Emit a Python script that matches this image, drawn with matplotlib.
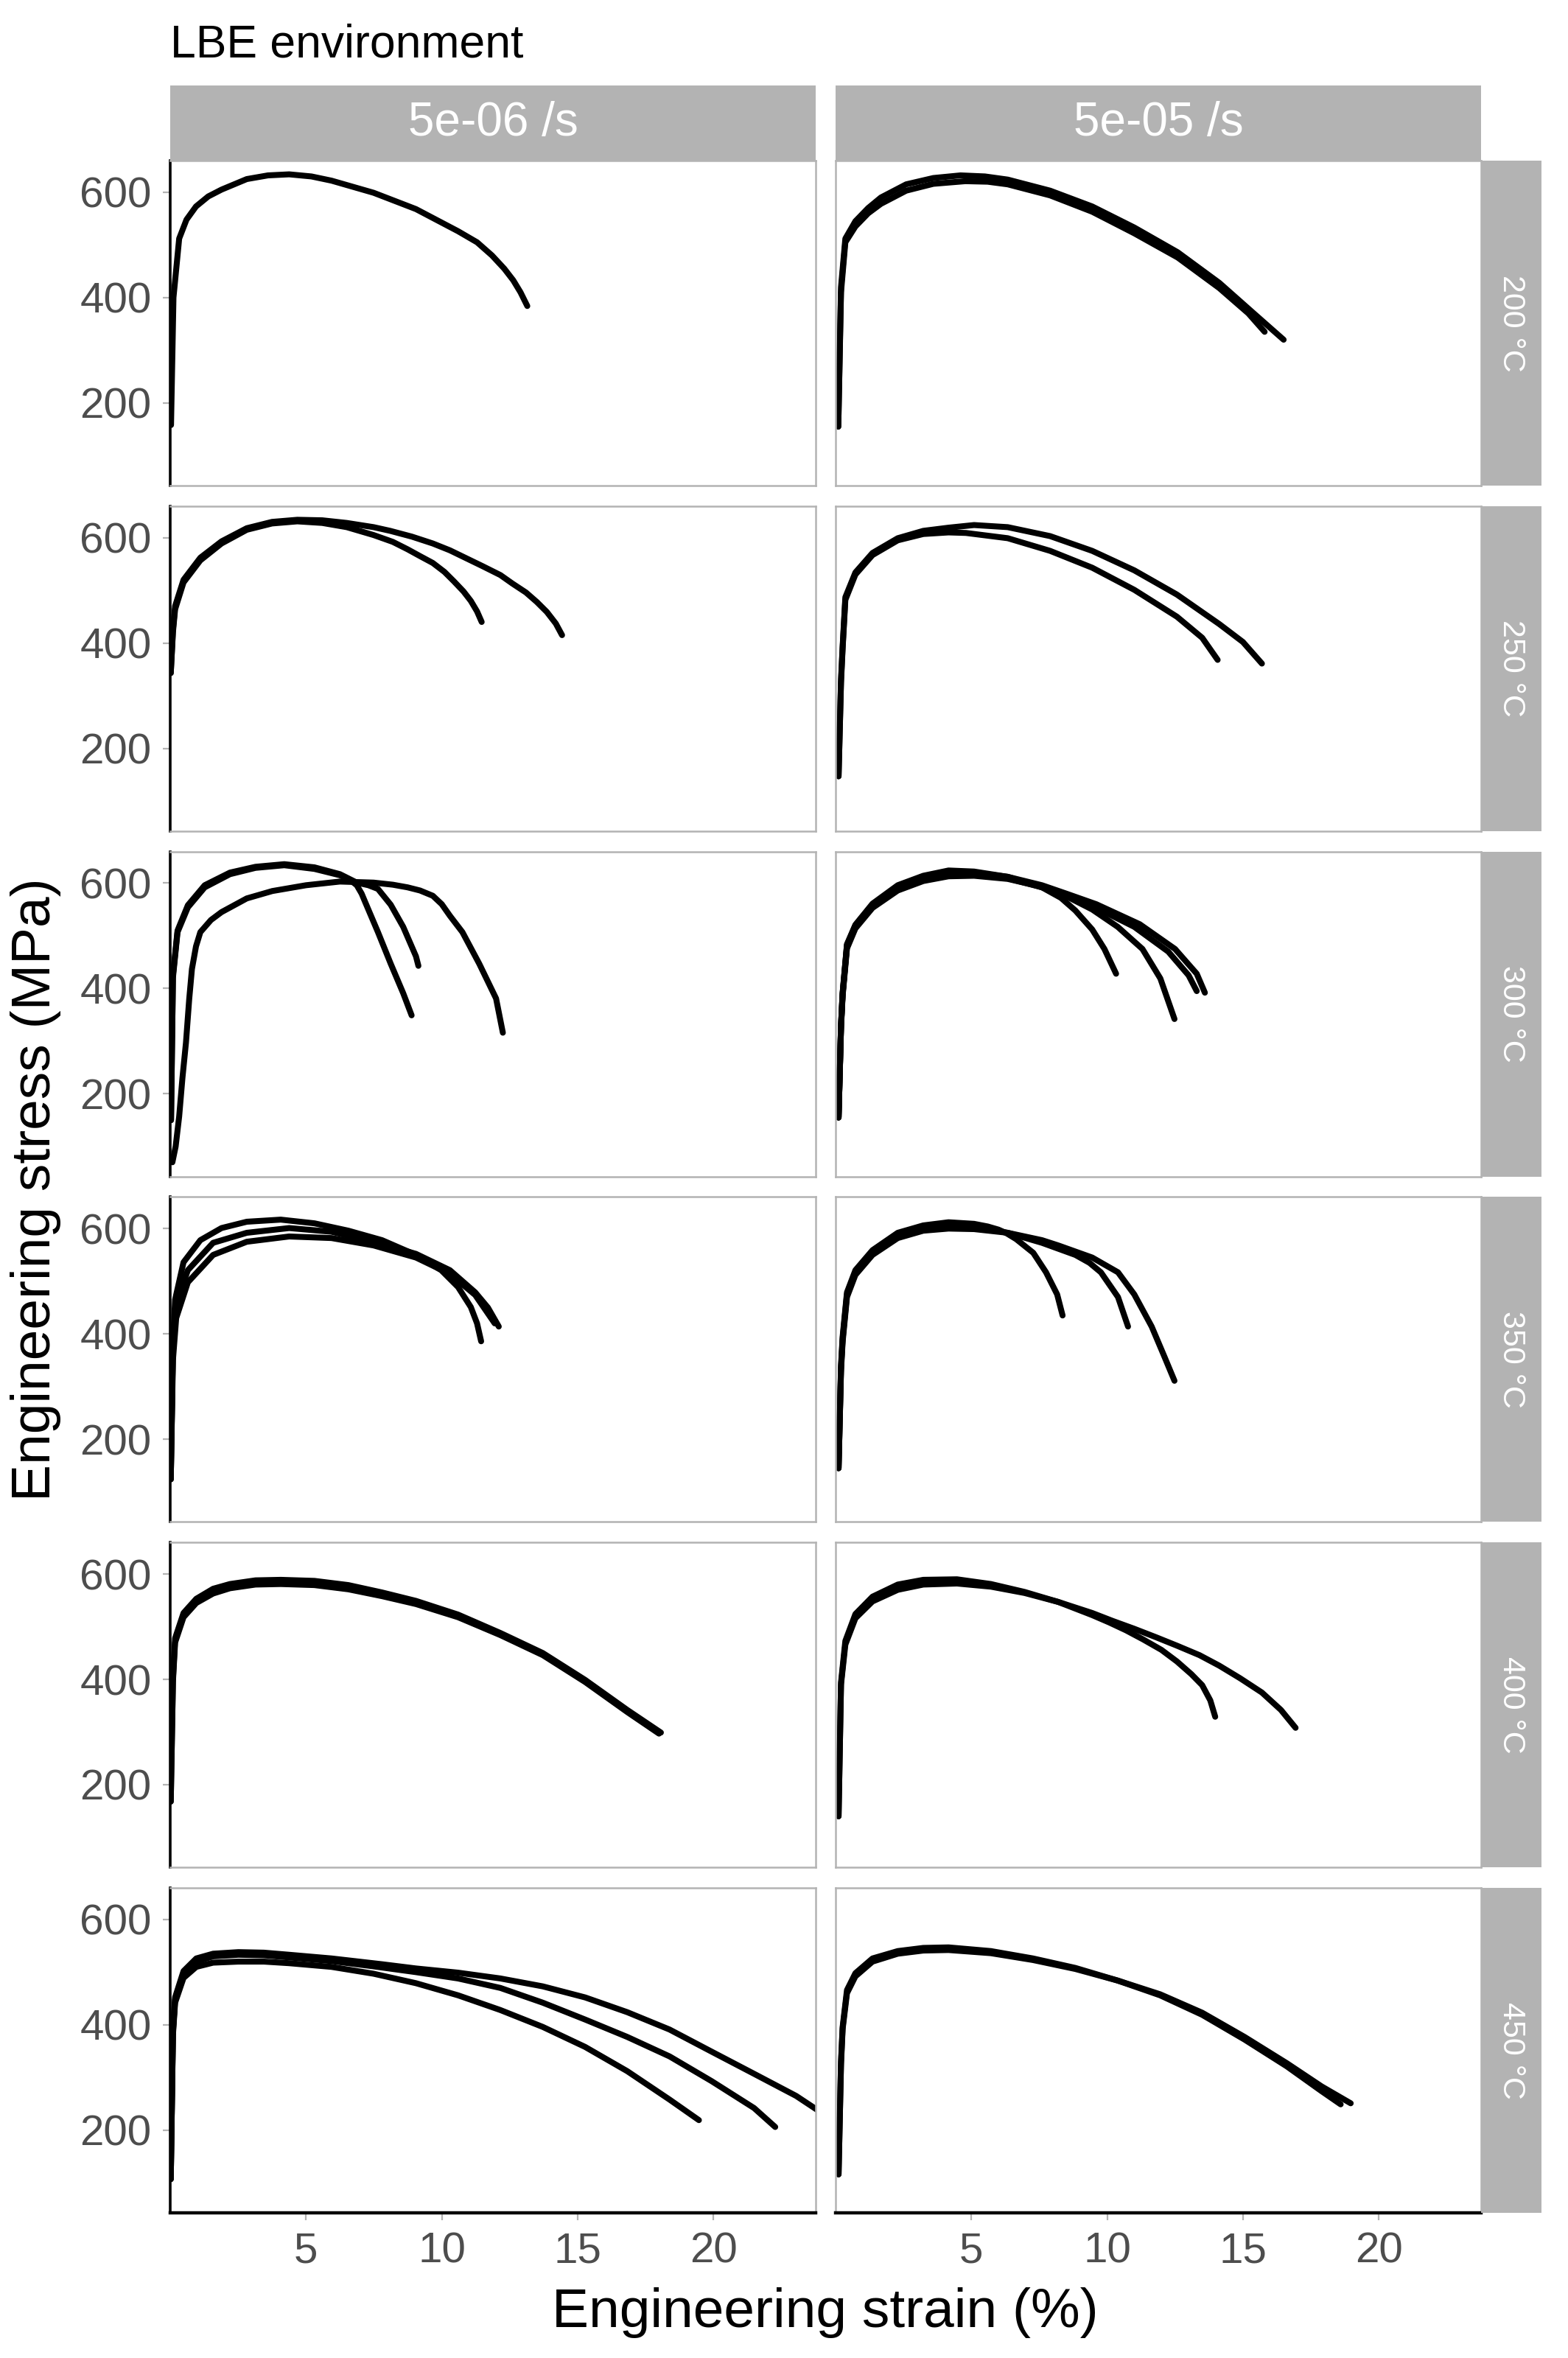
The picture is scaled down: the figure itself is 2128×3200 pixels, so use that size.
import matplotlib
matplotlib.use("Agg")
import matplotlib.pyplot as plt
from matplotlib.patches import Rectangle

plt.rcParams['font.family'] = ['Liberation Sans', 'DejaVu Sans']

temps = ['200 °C', '250 °C', '300 °C', '350 °C', '400 °C', '450 °C']
rates = ['5e-06 /s', '5e-05 /s']
x_ticks = [5, 10, 15, 20]
y_ticks = [200, 400, 600]

# each panel: list of curves, each curve = (strain %, stress MPa)
t200_slow = [
    ([0.03, 0.12, 0.33, 0.6, 0.95, 1.4, 1.89, 2.82, 3.6, 4.38, 5.2, 5.94, 7.49, 9.05, 10.6, 11.3, 11.85, 12.3, 12.63, 12.9, 13.15],
     [158, 400, 512, 548, 573, 592, 605, 625, 632, 634, 630, 622, 599, 568, 526, 505, 480, 455, 433, 410, 384]),
]
t200_fast = [
    ([0.1, 0.2, 0.36, 0.73, 1.2, 1.67, 2.6, 3.6, 4.6, 5.5, 6.34, 7.9, 9.45, 11.0, 12.6, 14.13, 15.4, 16.5],
     [155, 420, 512, 545, 570, 590, 615, 627, 632, 630, 624, 603, 573, 533, 486, 428, 370, 320]),
    ([0.1, 0.2, 0.36, 0.73, 1.2, 1.67, 2.6, 3.6, 4.78, 5.6, 6.34, 7.9, 9.45, 11.0, 12.6, 14.13, 15.2, 15.8],
     [155, 410, 505, 535, 560, 578, 603, 616, 621, 620, 615, 594, 563, 522, 476, 418, 370, 335]),
]

t250_slow = [
    ([0.02, 0.1, 0.18, 0.49, 1.11, 1.89, 2.82, 3.75, 4.68, 5.6, 6.5, 7.49, 8.2, 8.74, 9.2, 9.67, 10.1, 10.45, 10.8, 11.07, 11.3, 11.47],
     [343, 420, 464, 515, 557, 589, 615, 627, 631, 628, 620, 605, 592, 578, 565, 552, 535, 517, 498, 480, 460, 440]),
    ([0.02, 0.1, 0.18, 0.49, 1.11, 1.89, 2.82, 3.75, 4.68, 5.6, 6.5, 7.49, 8.1, 8.9, 9.67, 10.3, 10.9, 11.5, 12.16, 12.6, 13.1, 13.5, 13.87, 14.2, 14.43],
     [343, 425, 470, 520, 562, 593, 618, 630, 634, 633, 628, 620, 613, 602, 589, 576, 561, 546, 529, 513, 496, 478, 459, 437, 415]),
]
t250_fast = [
    ([0.11, 0.2, 0.26, 0.36, 0.73, 1.36, 2.29, 3.23, 4.16, 5.1, 6.34, 7.9, 9.45, 11.0, 12.57, 14.13, 15.0, 15.7],
     [147, 330, 394, 487, 534, 571, 599, 613, 619, 624, 620, 603, 575, 538, 492, 436, 402, 361]),
    ([0.11, 0.2, 0.26, 0.36, 0.73, 1.36, 2.29, 3.23, 4.16, 4.8, 6.34, 7.9, 9.45, 11.0, 12.57, 13.5, 14.07],
     [147, 325, 390, 482, 530, 567, 595, 607, 610, 609, 599, 575, 543, 501, 450, 410, 368]),
]

t300_slow = [
    ([0.03, 0.1, 0.27, 0.65, 1.27, 2.2, 3.14, 4.2, 5.31, 6.25, 6.6, 6.87, 7.05, 7.18, 7.65, 8.12, 8.58, 8.89],
     [150, 420, 507, 554, 592, 617, 629, 634, 627, 615, 607, 596, 580, 564, 507, 447, 391, 349]),
    ([0.03, 0.1, 0.27, 0.65, 1.27, 2.2, 3.14, 4.2, 5.31, 6.25, 6.87, 7.3, 7.65, 8.12, 8.58, 9.05, 9.14],
     [150, 425, 510, 558, 596, 620, 631, 636, 630, 617, 601, 596, 589, 559, 517, 461, 443]),
    ([0.08, 0.2, 0.33, 0.45, 0.58, 0.7, 0.8, 0.95, 1.11, 1.5, 1.89, 2.82, 3.76, 5.0, 6.25, 7.49, 8.2, 8.74, 9.2, 9.67, 10.0, 10.3, 10.76, 11.38, 12.0, 12.25],
     [70, 100, 157, 230, 297, 380, 437, 480, 507, 530, 545, 571, 585, 596, 603, 601, 597, 592, 586, 576, 560, 538, 507, 447, 381, 316]),
]
t300_fast = [
    ([0.11, 0.2, 0.26, 0.42, 0.73, 1.36, 2.29, 3.23, 4.16, 5.1, 6.34, 7.6, 8.3, 8.83, 9.45, 9.9, 10.33],
     [155, 330, 391, 484, 521, 561, 596, 614, 624, 622, 612, 592, 572, 548, 512, 475, 428]),
    ([0.11, 0.2, 0.26, 0.42, 0.73, 1.36, 2.29, 3.23, 4.16, 5.1, 6.34, 7.6, 8.5, 9.45, 10.39, 11.3, 11.96, 12.48],
     [155, 328, 389, 480, 518, 557, 590, 608, 617, 617, 609, 592, 575, 550, 517, 475, 419, 342]),
    ([0.11, 0.2, 0.26, 0.42, 0.73, 1.36, 2.29, 3.23, 4.16, 5.1, 6.34, 7.6, 8.5, 9.45, 11.0, 12.25, 13.0, 13.3],
     [155, 325, 386, 476, 514, 553, 586, 604, 613, 614, 608, 593, 578, 557, 517, 470, 425, 395]),
    ([0.11, 0.2, 0.26, 0.42, 0.73, 1.36, 2.29, 3.23, 4.16, 5.1, 6.34, 7.6, 8.5, 9.6, 11.2, 12.5, 13.3, 13.6],
     [155, 330, 392, 483, 520, 559, 593, 611, 620, 620, 612, 596, 580, 560, 522, 475, 428, 392]),
]

t350_slow = [
    ([0.02, 0.1, 0.18, 0.49, 1.11, 1.89, 2.82, 4.07, 5.31, 6.56, 7.8, 9.05, 9.98, 10.6, 11.07, 11.3, 11.45],
     [124, 380, 465, 536, 578, 601, 613, 617, 610, 596, 578, 550, 521, 489, 451, 420, 386]),
    ([0.02, 0.1, 0.2, 0.65, 1.58, 2.82, 4.38, 5.94, 7.49, 9.05, 10.3, 11.23, 11.7, 12.1],
     [124, 370, 455, 521, 573, 592, 601, 594, 575, 552, 521, 479, 450, 414]),
    ([0.02, 0.1, 0.22, 0.65, 1.58, 2.82, 4.38, 5.94, 7.49, 9.05, 10.3, 11.23, 11.95],
     [124, 350, 430, 498, 550, 575, 585, 582, 568, 545, 514, 474, 420]),
]
t350_fast = [
    ([0.11, 0.2, 0.26, 0.42, 0.73, 1.36, 2.29, 3.23, 4.16, 5.1, 5.6, 6.0, 6.3, 6.65, 7.28, 7.75, 8.16, 8.36],
     [145, 340, 395, 479, 521, 559, 592, 606, 612, 609, 604, 598, 591, 580, 554, 517, 475, 435]),
    ([0.11, 0.2, 0.26, 0.42, 0.73, 1.36, 2.29, 3.23, 4.16, 5.1, 6.34, 7.6, 8.83, 9.35, 9.77, 10.4, 10.77],
     [145, 335, 390, 475, 517, 555, 588, 602, 606, 604, 592, 573, 550, 535, 517, 470, 414]),
    ([0.11, 0.2, 0.26, 0.42, 0.73, 1.36, 2.29, 3.23, 4.16, 5.1, 6.34, 7.6, 8.2, 9.45, 10.4, 11.0, 11.64, 12.1, 12.48],
     [145, 330, 385, 470, 512, 550, 582, 596, 600, 599, 592, 578, 568, 545, 517, 475, 414, 358, 311]),
]

t400_slow = [
    ([0.02, 0.1, 0.18, 0.49, 0.96, 1.58, 2.2, 3.14, 4.07, 5.31, 6.56, 7.8, 9.05, 10.6, 12.16, 13.72, 15.28, 16.83, 18.07],
     [168, 400, 478, 526, 553, 572, 581, 588, 589, 587, 579, 565, 549, 523, 488, 450, 399, 342, 299]),
    ([0.02, 0.1, 0.18, 0.49, 0.96, 1.58, 2.2, 3.14, 4.07, 5.31, 6.56, 7.8, 9.05, 10.6, 12.16, 13.72, 15.28, 16.83, 18.0],
     [168, 395, 470, 518, 545, 563, 573, 580, 581, 579, 571, 558, 543, 518, 484, 446, 395, 338, 297]),
]
t400_fast = [
    ([0.11, 0.2, 0.36, 0.73, 1.36, 2.29, 3.23, 4.47, 5.72, 6.96, 8.2, 9.45, 10.08, 10.7, 11.32, 12.0, 12.57, 13.1, 13.5, 13.8, 13.98],
     [140, 394, 473, 524, 557, 580, 589, 590, 581, 566, 547, 522, 508, 493, 476, 456, 434, 410, 389, 360, 329]),
    ([0.11, 0.2, 0.36, 0.73, 1.36, 2.29, 3.23, 4.47, 5.72, 6.96, 8.2, 9.45, 10.2, 11.0, 11.8, 12.57, 13.4, 14.13, 14.9, 15.7, 16.4, 16.94],
     [140, 390, 466, 516, 548, 570, 580, 582, 576, 564, 547, 526, 511, 496, 480, 464, 446, 426, 402, 375, 342, 308]),
]

t450_slow = [
    ([0.02, 0.1, 0.18, 0.49, 0.96, 1.58, 2.51, 3.45, 4.38, 5.94, 7.49, 9.05, 10.6, 12.16, 13.72, 15.28, 16.83, 18.39, 19.47],
     [107, 380, 442, 489, 510, 518, 520, 520, 517, 510, 497, 479, 456, 428, 396, 358, 312, 258, 219]),
    ([0.02, 0.1, 0.18, 0.49, 0.96, 1.58, 2.51, 3.45, 4.38, 5.94, 7.49, 9.05, 10.6, 12.16, 13.72, 15.28, 16.83, 18.39, 19.94, 21.5, 22.28],
     [107, 385, 448, 497, 520, 530, 533, 532, 528, 521, 511, 500, 488, 470, 442, 410, 377, 340, 293, 242, 206]),
    ([0.02, 0.1, 0.18, 0.49, 0.96, 1.58, 2.51, 3.45, 4.38, 5.94, 7.8, 9.05, 10.6, 12.16, 13.72, 15.28, 16.83, 18.39, 19.94, 21.5, 23.05, 23.9],
     [107, 390, 452, 502, 526, 535, 538, 537, 533, 526, 515, 507, 499, 488, 473, 452, 424, 391, 349, 307, 265, 236]),
]
t450_fast = [
    ([0.11, 0.2, 0.26, 0.42, 0.73, 1.36, 2.29, 3.23, 4.16, 5.72, 7.27, 8.83, 10.39, 11.95, 13.5, 15.06, 16.62, 17.87, 18.6],
     [116, 330, 396, 466, 498, 526, 540, 546, 547, 540, 526, 508, 484, 456, 419, 372, 321, 275, 249]),
    ([0.11, 0.2, 0.26, 0.42, 0.73, 1.36, 2.29, 3.23, 4.16, 5.72, 7.27, 8.83, 10.39, 11.95, 13.5, 15.06, 16.62, 17.9, 18.97],
     [116, 325, 392, 460, 492, 520, 535, 541, 542, 536, 523, 506, 484, 458, 423, 377, 327, 283, 251]),
]

panels = [
    [t200_slow, t200_fast],
    [t250_slow, t250_fast],
    [t300_slow, t300_fast],
    [t350_slow, t350_fast],
    [t400_slow, t400_fast],
    [t450_slow, t450_fast],
]

W, H = 2128, 3200
fig = plt.figure(figsize=(W / 200, H / 200), dpi=200)


def box(x0, y0, w, h):
    # pixel box (top-left origin) -> figure fraction
    return [x0 / W, 1 - (y0 + h) / H, w / W, h / H]


strip_grey = '#B3B3B3'
col_left = [231, 1134]
col_w = 876
row_h = 441
row_top = [218 + r * 468.8 for r in range(6)]

for r in range(6):
    for c in range(2):
        ax = fig.add_axes(box(col_left[c], row_top[r], col_w, row_h))
        for sx, sy in panels[r][c]:
            ax.plot(sx, sy, color='black', lw=2.9,
                    solid_capstyle='round', solid_joinstyle='round')
        ax.set_xlim(0, 23.77)
        ax.set_ylim(43, 660)
        ax.set_xticks(x_ticks)
        ax.set_yticks(y_ticks)
        ax.tick_params(length=3.6, width=0.8, color=strip_grey,
                       labelsize=21, labelcolor='#4D4D4D', pad=5.5)
        for sp in ax.spines.values():
            sp.set_color(strip_grey)
            sp.set_linewidth(0.9)
        if c == 0:
            ax.spines['left'].set_color('black')
            ax.spines['left'].set_linewidth(1.3)
        else:
            ax.tick_params(axis='y', left=False, labelleft=False)
        if r == 5:
            ax.spines['bottom'].set_color('black')
            ax.spines['bottom'].set_linewidth(1.6)
        else:
            ax.tick_params(axis='x', bottom=False, labelbottom=False)

        # right strip with temperature
        if c == 1:
            sx0, sy0 = col_left[1] + col_w, row_top[r]
            fig.add_artist(Rectangle(box(sx0, sy0, 82, row_h)[:2],
                                     82 / W, row_h / H, transform=fig.transFigure,
                                     facecolor=strip_grey, edgecolor='none'))
            fig.text((sx0 + 41) / W, 1 - (sy0 + row_h / 2) / H, temps[r],
                     rotation=270, color='white', fontsize=15.5,
                     ha='center', va='center')

# top strips with strain rate
for c in range(2):
    fig.add_artist(Rectangle(box(col_left[c], 116, col_w, 102)[:2],
                             col_w / W, 102 / H, transform=fig.transFigure,
                             facecolor=strip_grey, edgecolor='none'))
    fig.text((col_left[c] + col_w / 2) / W, 1 - 167 / H, rates[c],
             color='white', fontsize=23, ha='center', va='center')

fig.text(231 / W, 1 - 78 / H, 'LBE environment', fontsize=22.5,
         ha='left', va='baseline')
fig.text(1120 / W, 1 - 3158 / H, 'Engineering strain (%)', fontsize=27,
         ha='center', va='baseline')
fig.text(49 / W, 1 - 1614 / H, 'Engineering stress (MPa)', fontsize=27,
         rotation=90, ha='center', va='center')

fig.savefig('out.png', dpi=200, facecolor='white')
